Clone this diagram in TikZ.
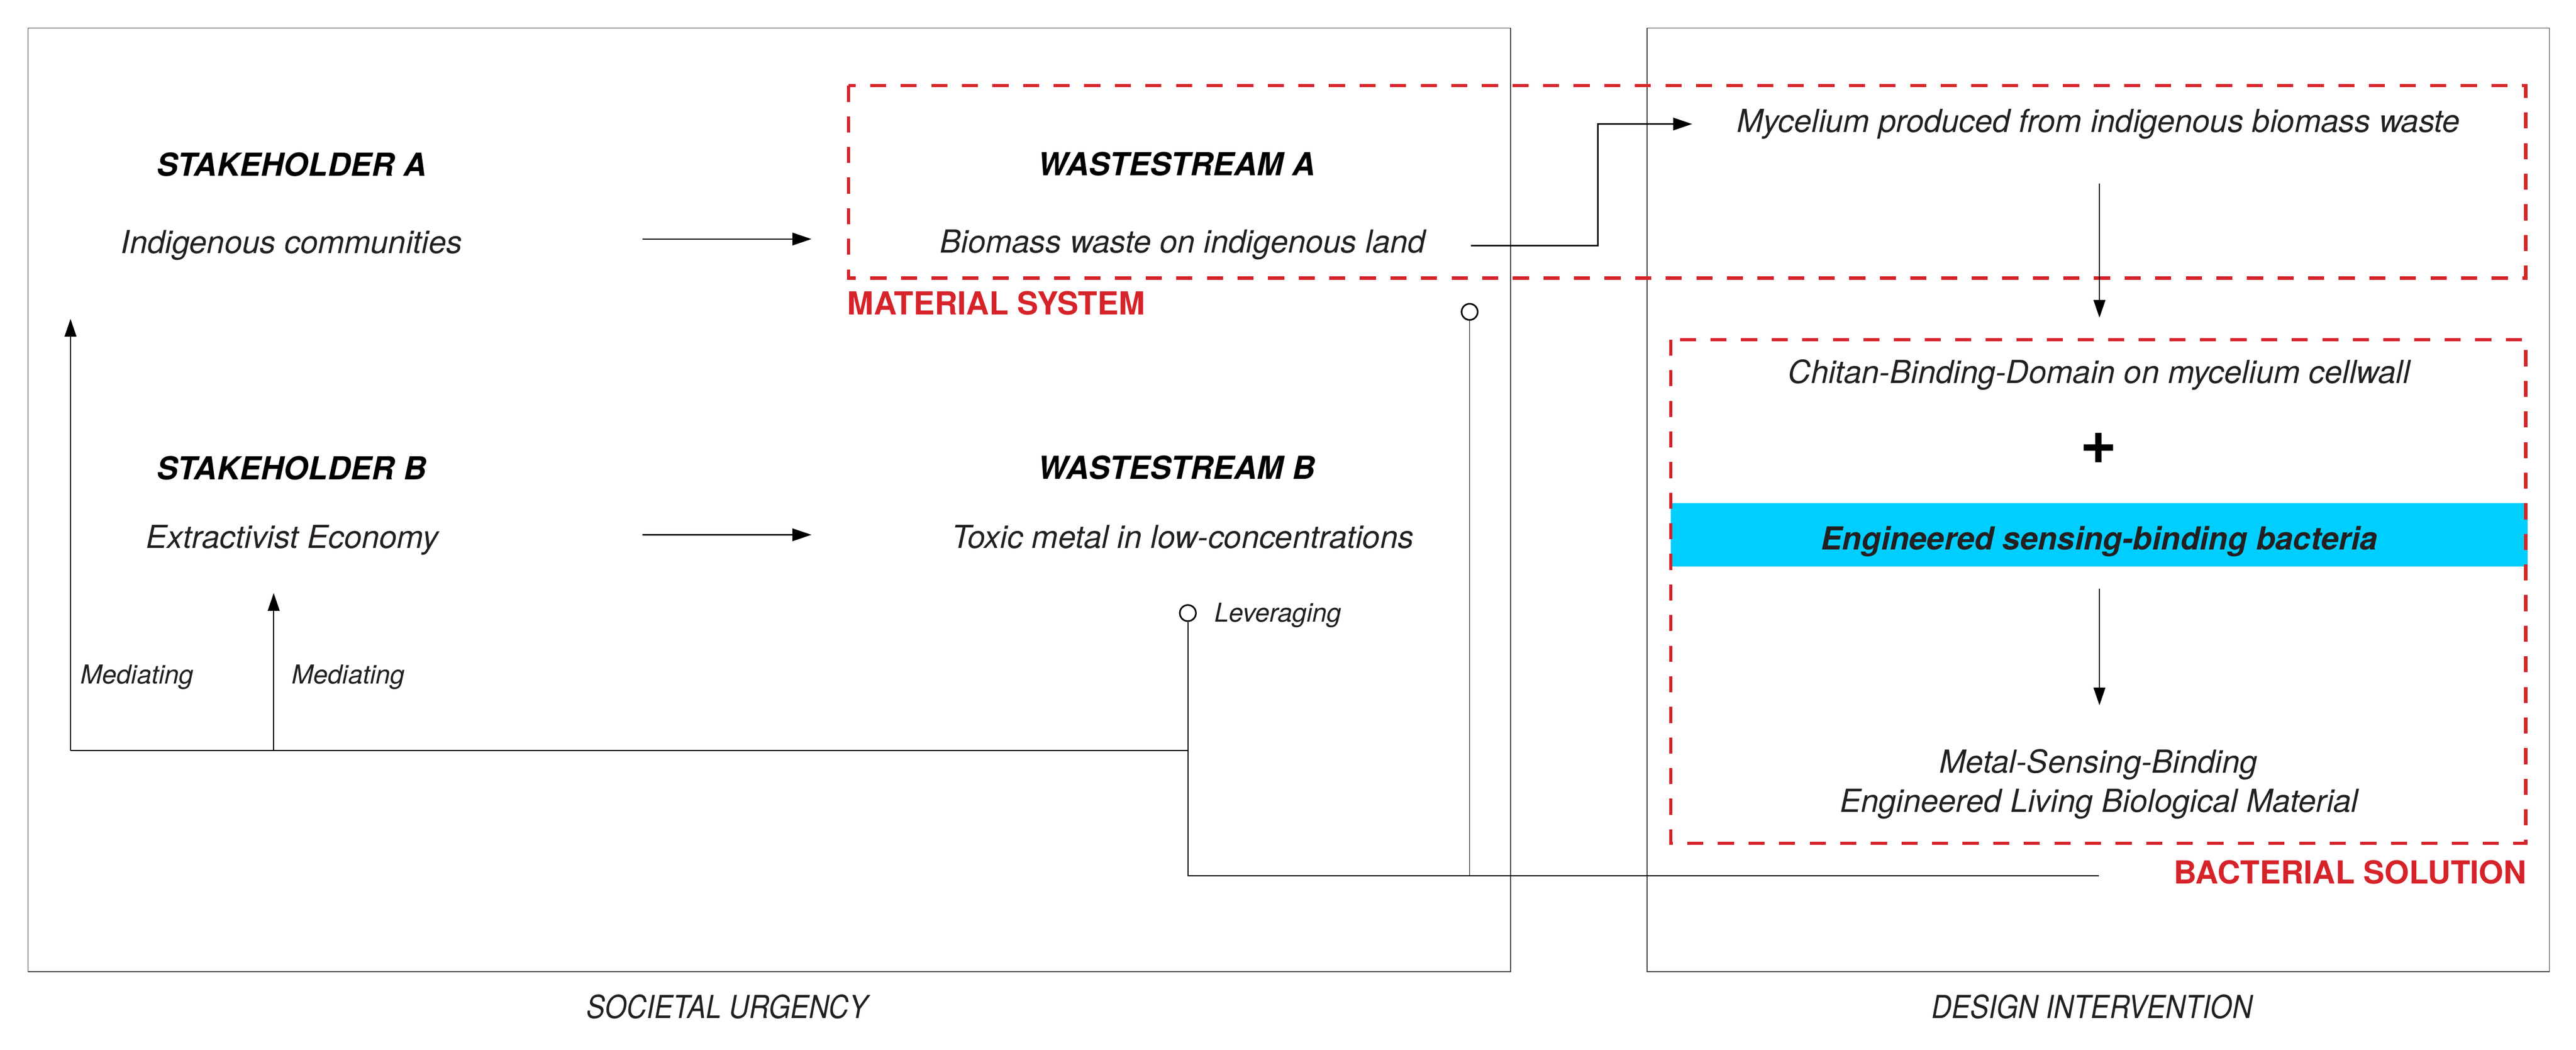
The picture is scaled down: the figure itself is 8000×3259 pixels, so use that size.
\documentclass[tikz,border=0pt]{standalone}
\usepackage{fontspec}
\setmainfont{TeX Gyre Heros}
\newfontfamily\thinfont[FakeStretch=0.88]{TeX Gyre Heros}
\usetikzlibrary{arrows.meta}

\begin{document}
\begin{tikzpicture}[x=0.1mm,y=-0.1mm,
    title/.style={font=\fontsize{28}{34}\selectfont\bfseries\itshape,anchor=base,inner sep=0pt},
    desc/.style={font=\fontsize{28}{34}\selectfont\itshape,text=hltext,anchor=base,inner sep=0pt},
    note/.style={font=\fontsize{23}{28}\selectfont\itshape,text=hltext,anchor=base west,inner sep=0pt},
    syslabel/.style={font=\fontsize{28}{34}\selectfont\bfseries,text=hlred,inner sep=0pt},
    zonelabel/.style={font=\thinfont\fontsize{28}{34}\selectfont\itshape,text=hltext,anchor=base,inner sep=0pt},
    zone/.style={draw=hlframe,line width=0.2mm},
    sysbox/.style={draw=hlred,line width=1mm,dash pattern=on 5mm off 4.5mm},
    link/.style={line width=0.3mm},
    flow/.style={line width=0.4mm,-{Triangle[length=5.9mm,width=3.9mm]}},
    thinflow/.style={line width=0.25mm,-{Triangle[length=5.5mm,width=3.7mm]}},
    dot/.style={circle,draw,line width=0.5mm,fill=white,minimum size=5mm,inner sep=0pt}]
    \definecolor{hltext}{RGB}{35,31,32}
    \definecolor{hlframe}{RGB}{60,60,60}
    \definecolor{hlred}{RGB}{214,35,42}
    \definecolor{hlcyan}{RGB}{0,206,255}
    \useasboundingbox (0,0) rectangle (8000,3259);
    \draw[zone] (87,87) rectangle (4691,3016);
    \draw[zone] (5115,87) rectangle (7918,3016);
    \node[fill=hlcyan,minimum width=266.1mm,minimum height=19.8mm,inner sep=0pt,text height=9.2mm,text depth=0pt,text=hltext,font=\fontsize{28}{34}\selectfont\bfseries\itshape] (bact) at (6519.5,1660) {Engineered sensing-binding bacteria};
    \draw[sysbox] (2635,266) rectangle (7844,863);
    \draw[sysbox] (5189,1054) rectangle (7844,2618);
    \node[title] (stakeA) at (906,547) {STAKEHOLDER A};
    \node[desc] (stakeAtxt) at (906,786) {Indigenous communities};
    \node[title] (wasteA) at (3654,545) {WASTESTREAM A};
    \node[desc] (wasteAtxt) at (3673,785) {Biomass waste on indigenous land};
    \node[syslabel,anchor=base west] (matlabel) at (2631,977) {MATERIAL SYSTEM};
    \node[title] (stakeB) at (906,1488) {STAKEHOLDER B};
    \node[desc] (stakeBtxt) at (908,1702) {Extractivist Economy};
    \node[title] (wasteB) at (3654,1487) {WASTESTREAM B};
    \node[desc] (wasteBtxt) at (3673,1701) {Toxic metal in low-concentrations};
    \node[note] (levtxt) at (3771,1931) {Leveraging};
    \node[note] (medA) at (250,2122) {Mediating};
    \node[note] (medB) at (906,2122) {Mediating};
    \node[desc] (myc) at (6517,410) {Mycelium produced from indigenous biomass waste};
    \node[desc] (chitan) at (6519,1189) {Chitan-Binding-Domain on mycelium cellwall};
    \node[inner sep=0pt,font=\fontsize{56}{60}\selectfont\bfseries] (plus) at (6518,1392) {+};
    \node[desc] (metalA) at (6517,2399) {Metal-Sensing-Binding};
    \node[desc] (metalB) at (6519,2520) {Engineered Living Biological Material};
    \node[syslabel,anchor=base east] (baclabel) at (7847,2743) {BACTERIAL SOLUTION};
    \node[zonelabel] (urgency) at (2258,3161) {SOCIETAL URGENCY};
    \node[zonelabel] (design) at (6497,3161) {DESIGN INTERVENTION};
    \coordinate (arrAs) at (1995,742);
    \coordinate (arrAe) at (2520,742);
    \coordinate (arrBs) at (1995,1660);
    \coordinate (arrBe) at (2520,1660);
    \coordinate (bioS) at (4568,762);
    \coordinate (bioK) at (4962,385);
    \coordinate (bioE) at (5255,385);
    \coordinate (mycS) at (6520,569);
    \coordinate (mycE) at (6520,986);
    \coordinate (bacS) at (6520,1827);
    \coordinate (bacE) at (6520,2189);
    \coordinate (jL) at (219,2330);
    \coordinate (jM) at (850,2330);
    \coordinate (jR) at (3689,2330);
    \coordinate (upA) at (219,990);
    \coordinate (upB) at (850,1841);
    \coordinate (jB) at (3689,2718);
    \coordinate (jMat) at (4564,2718);
    \coordinate (jE) at (6518,2718);
    \node[dot] (lev) at (3689,1903) {};
    \node[dot] (matdot) at (4564,968) {};
    \draw[flow] (arrAs) to (arrAe);
    \draw[flow] (arrBs) to (arrBe);
    \draw[flow] (bioS) -| (bioK) to (bioE);
    \draw[thinflow] (mycS) to (mycE);
    \draw[thinflow] (bacS) to (bacE);
    \draw[link] (jL) to (jR);
    \draw[thinflow] (jL) to (upA);
    \draw[thinflow] (jM) to (upB);
    \draw[link] (lev) to (jB) to (jE);
    \draw[link] (matdot) to (jMat);
\end{tikzpicture}
\end{document}
